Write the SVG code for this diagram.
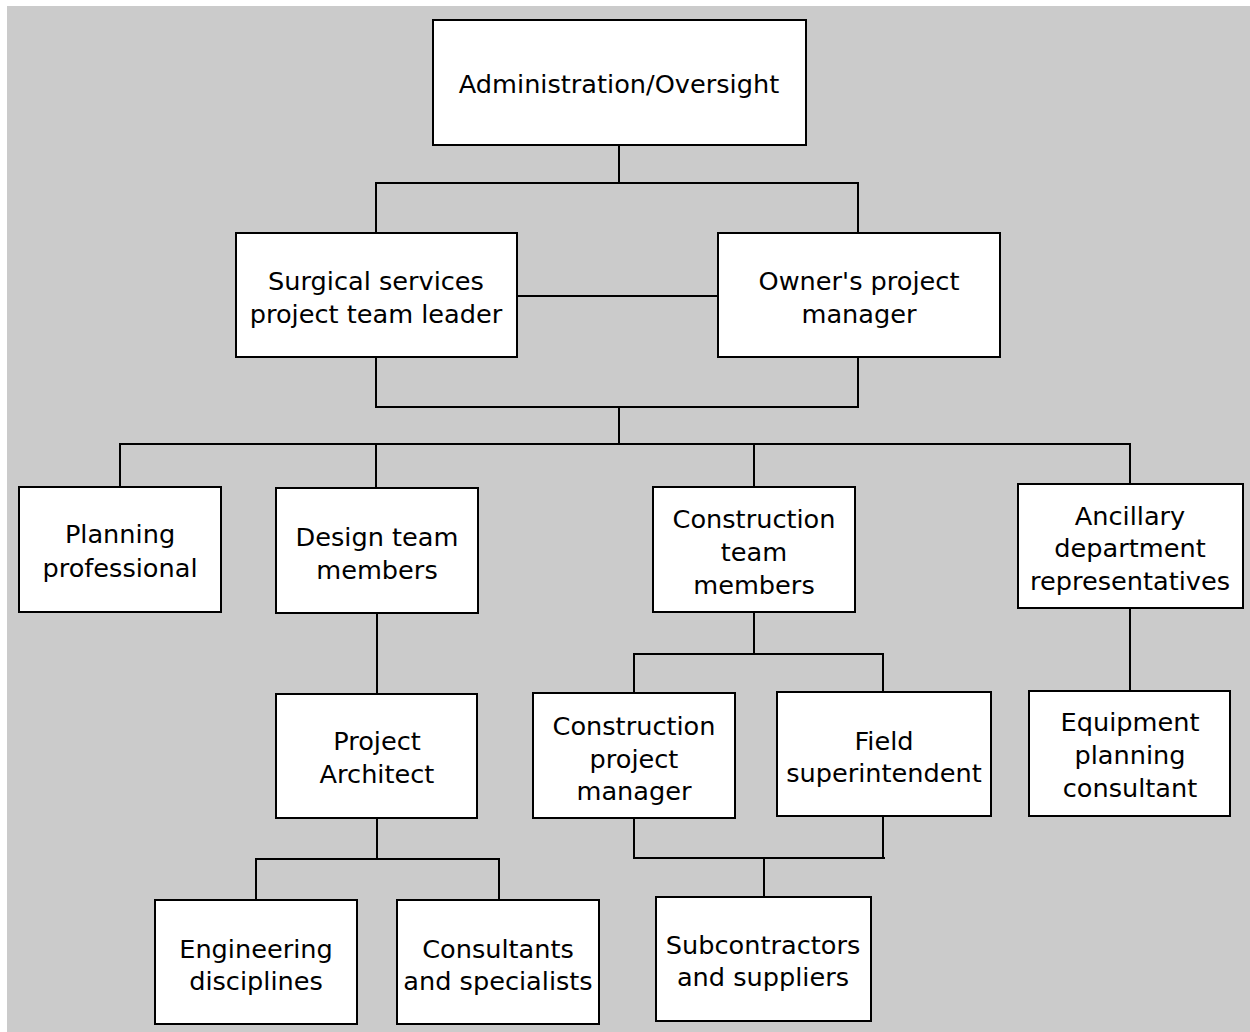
<svg xmlns="http://www.w3.org/2000/svg" width="1250" height="1032" viewBox="0 0 1250 1032">
<style>
.box{fill:#ffffff;stroke:#000000;stroke-width:2}
.ln{fill:none;stroke:#000000;stroke-width:2}
text{font-family:"DejaVu Sans","Liberation Sans",sans-serif;font-size:25.6px;fill:#000000;text-anchor:middle}
</style>
<rect x="0" y="0" width="1250" height="1032" fill="#ffffff"/>
<rect x="7" y="6" width="1243" height="1026" fill="#cbcbcb"/>
<g id="connectors">
<path class="ln" d="M619 145 V183 M376 233 V183 H858 V233"/>
<path class="ln" d="M517 296 H718"/>
<path class="ln" d="M376 357 V407 H858 V357 M619 407 V444"/>
<path class="ln" d="M120 487 V444 H1130 V484 M376 444 V488 M754 444 V487"/>
<path class="ln" d="M754 612 V654 M634 693 V654 H883 V692"/>
<path class="ln" d="M377 613 V694"/>
<path class="ln" d="M1130 608 V691"/>
<path class="ln" d="M377 818 V859 M256 900 V859 H499 V900"/>
<path class="ln" d="M634 818 V858 H885 M883 816 V858 M764 858 V897"/>
</g>
<g id="admin"><rect class="box" x="433" y="20" width="373" height="125"/><text x="619" y="93">Administration/Oversight</text></g>
<g id="surgical"><rect class="box" x="236" y="233" width="281" height="124"/><text x="376" y="290">Surgical services</text><text x="376" y="323">project team leader</text></g>
<g id="owner"><rect class="box" x="718" y="233" width="282" height="124"/><text x="859" y="290">Owner's project</text><text x="859" y="323">manager</text></g>
<g id="planning"><rect class="box" x="19" y="487" width="202" height="125"/><text x="120" y="543">Planning</text><text x="120" y="577">professional</text></g>
<g id="design"><rect class="box" x="276" y="488" width="202" height="125"/><text x="377" y="546">Design team</text><text x="377" y="579">members</text></g>
<g id="construction-team"><rect class="box" x="653" y="487" width="202" height="125"/><text x="754" y="528">Construction</text><text x="754" y="561">team</text><text x="754" y="594">members</text></g>
<g id="ancillary"><rect class="box" x="1018" y="484" width="225" height="124"/><text x="1130" y="525">Ancillary</text><text x="1130" y="557">department</text><text x="1130" y="590">representatives</text></g>
<g id="construction-pm"><rect class="box" x="533" y="693" width="202" height="125"/><text x="634" y="735">Construction</text><text x="634" y="768">project</text><text x="634" y="800">manager</text></g>
<g id="field"><rect class="box" x="777" y="692" width="214" height="124"/><text x="884" y="750">Field</text><text x="884" y="782">superintendent</text></g>
<g id="architect"><rect class="box" x="276" y="694" width="201" height="124"/><text x="377" y="750">Project</text><text x="377" y="783">Architect</text></g>
<g id="equipment"><rect class="box" x="1029" y="691" width="201" height="125"/><text x="1130" y="731">Equipment</text><text x="1130" y="764">planning</text><text x="1130" y="797">consultant</text></g>
<g id="engineering"><rect class="box" x="155" y="900" width="202" height="124"/><text x="256" y="958">Engineering</text><text x="256" y="990">disciplines</text></g>
<g id="consultants"><rect class="box" x="397" y="900" width="202" height="124"/><text x="498" y="958">Consultants</text><text x="498" y="990">and specialists</text></g>
<g id="subcontractors"><rect class="box" x="656" y="897" width="215" height="124"/><text x="763" y="954">Subcontractors</text><text x="763" y="986">and suppliers</text></g>
</svg>
